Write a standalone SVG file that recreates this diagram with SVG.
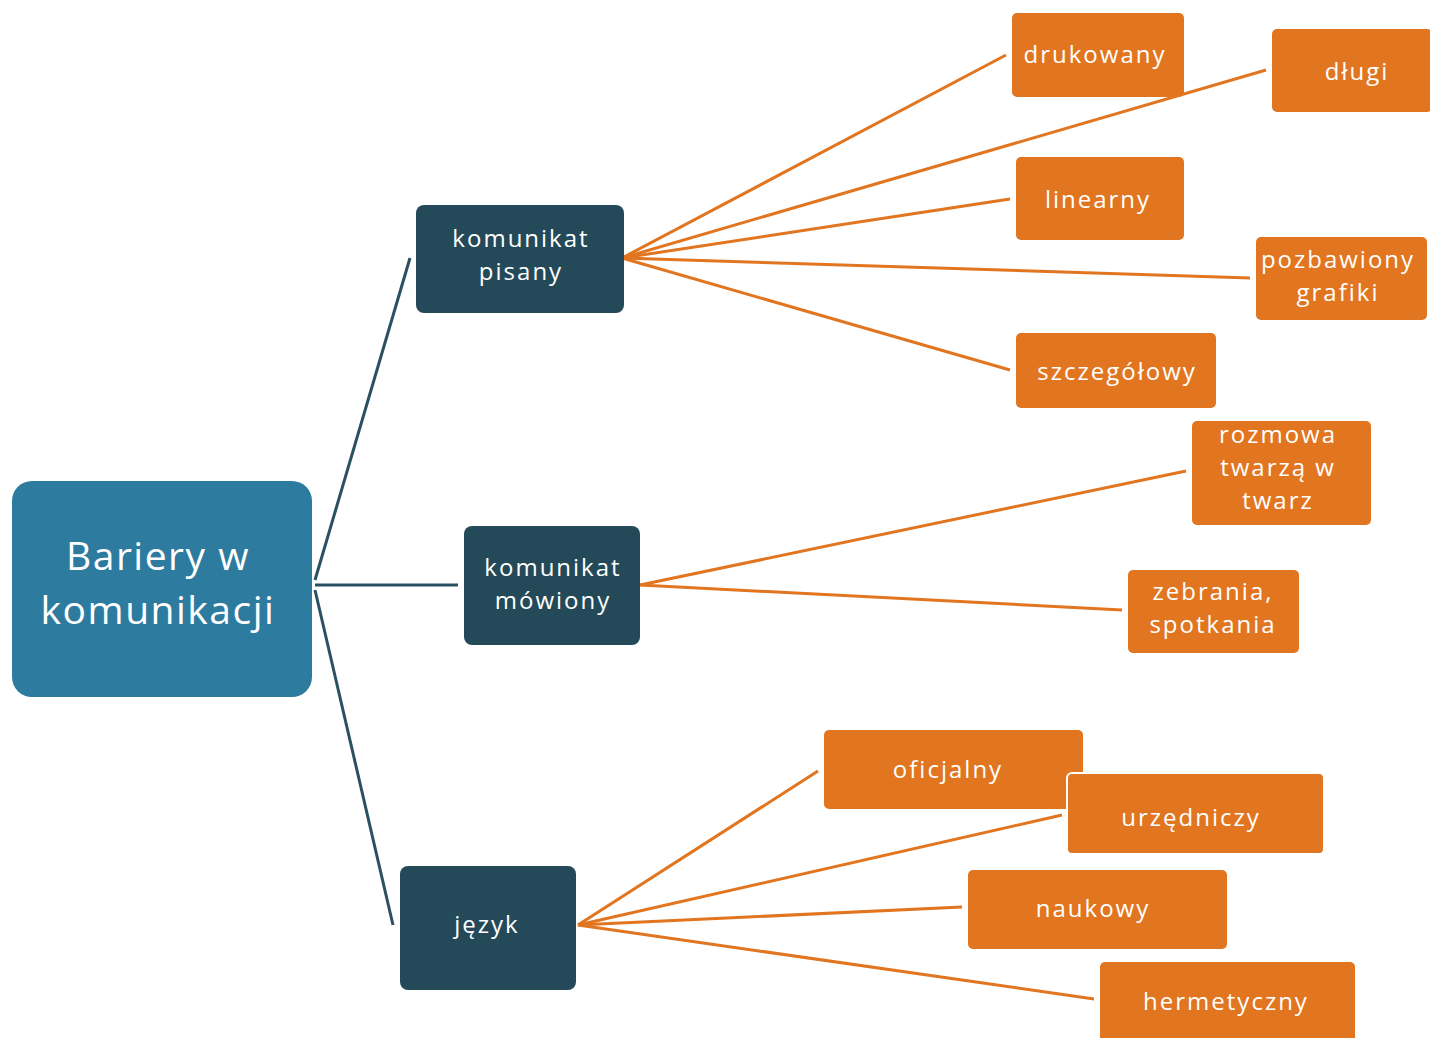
<svg xmlns="http://www.w3.org/2000/svg" width="1430" height="1038" viewBox="0 0 1430 1038">
<style>
.root{fill:#2D7B9E}
.dark{fill:#244A5A}
.or{fill:#E2751F}
.t{font-family:"Open Sans","Liberation Sans",sans-serif;fill:#fff;text-anchor:middle;font-size:24px;letter-spacing:2px}
.tr{font-family:"Open Sans","Liberation Sans",sans-serif;fill:#fff;text-anchor:middle;font-size:39px;letter-spacing:1.5px}
.cd{stroke:#2B5063;stroke-width:3;fill:none}
.co{stroke:#E2751F;stroke-width:3;fill:none}
</style>
<rect width="1430" height="1038" fill="#fff"/>
<g id="connectors">
<line class="cd" x1="315" y1="580" x2="410" y2="258"/>
<line class="cd" x1="315" y1="585" x2="458" y2="585"/>
<line class="cd" x1="315" y1="590" x2="393" y2="925"/>
<line class="co" x1="622" y1="258" x2="1006" y2="55"/>
<line class="co" x1="622" y1="258" x2="1266" y2="70"/>
<line class="co" x1="622" y1="258" x2="1010" y2="199"/>
<line class="co" x1="622" y1="258" x2="1250" y2="278"/>
<line class="co" x1="622" y1="258" x2="1010" y2="370"/>
<line class="co" x1="640" y1="585" x2="1186" y2="471"/>
<line class="co" x1="640" y1="585" x2="1122" y2="610"/>
<line class="co" x1="578" y1="925" x2="818" y2="771"/>
<line class="co" x1="578" y1="925" x2="1062" y2="815"/>
<line class="co" x1="578" y1="925" x2="962" y2="907"/>
<line class="co" x1="578" y1="925" x2="1094" y2="999"/>
</g>
<g id="root"><rect class="root" x="12" y="481" width="300" height="216" rx="20"/><text class="tr" x="158" y="570">Bariery w</text><text class="tr" x="158" y="624">komunikacji</text></g>
<g id="pisany"><rect class="dark" x="416" y="205" width="208" height="108" rx="8"/><text class="t" x="521" y="247">komunikat</text><text class="t" x="521" y="280">pisany</text></g>
<g id="mowiony"><rect class="dark" x="464" y="526" width="176" height="119" rx="8"/><text class="t" x="553" y="576">komunikat</text><text class="t" x="553" y="609">mówiony</text></g>
<g id="jezyk"><rect class="dark" x="400" y="866" width="176" height="124" rx="8"/><text class="t" x="487" y="933">język</text></g>
<g id="drukowany"><rect class="or" x="1012" y="13" width="172" height="84" rx="5"/><text class="t" x="1095" y="63">drukowany</text></g>
<g id="dlugi"><rect class="or" x="1272" y="29" width="160" height="83" rx="5"/><text class="t" x="1357" y="80">długi</text></g>
<g id="linearny"><rect class="or" x="1016" y="157" width="168" height="83" rx="5"/><text class="t" x="1098" y="208">linearny</text></g>
<g id="pozbawiony"><rect class="or" x="1256" y="237" width="171" height="83" rx="5"/><text class="t" x="1338" y="268">pozbawiony</text><text class="t" x="1338" y="301">grafiki</text></g>
<g id="szczegolowy"><rect class="or" x="1016" y="333" width="200" height="75" rx="5"/><text class="t" x="1117" y="380">szczegółowy</text></g>
<g id="rozmowa"><rect class="or" x="1192" y="421" width="179" height="104" rx="5"/><text class="t" x="1278" y="443">rozmowa</text><text class="t" x="1278" y="476">twarzą w</text><text class="t" x="1278" y="509">twarz</text></g>
<g id="zebrania"><rect class="or" x="1128" y="570" width="171" height="83" rx="5"/><text class="t" x="1213" y="600">zebrania,</text><text class="t" x="1213" y="633">spotkania</text></g>
<g id="oficjalny"><rect class="or" x="824" y="730" width="259" height="79" rx="5"/><text class="t" x="948" y="778">oficjalny</text></g>
<g id="urzedniczy"><rect class="or" x="1067" y="773" width="257" height="81" rx="5" stroke="#fff" stroke-width="2"/><text class="t" x="1191" y="826">urzędniczy</text></g>
<g id="naukowy"><rect class="or" x="968" y="870" width="259" height="79" rx="5"/><text class="t" x="1093" y="917">naukowy</text></g>
<g id="hermetyczny"><rect class="or" x="1100" y="962" width="255" height="84" rx="5"/><text class="t" x="1226" y="1010">hermetyczny</text></g>
</svg>
